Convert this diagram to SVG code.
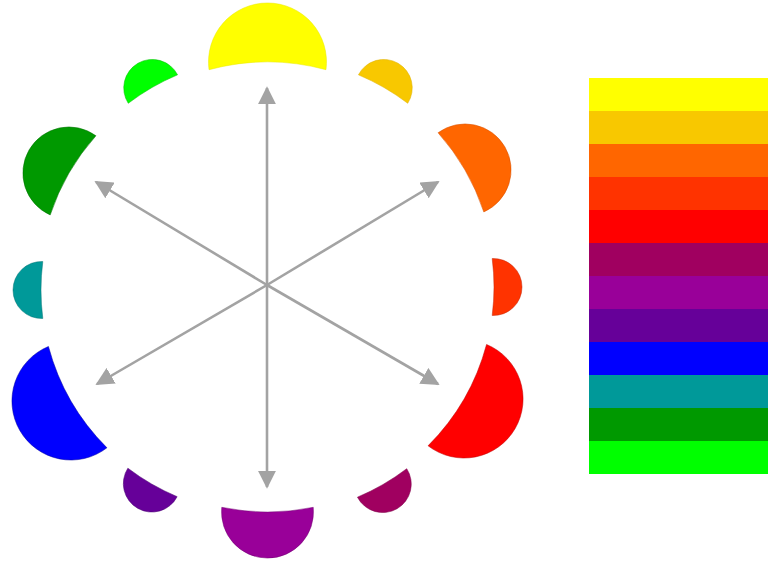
<svg xmlns="http://www.w3.org/2000/svg" width="768" height="567" viewBox="0 0 768 567">
<style>
.arr{stroke:#a3a3a3;stroke-width:2.6;fill:none;marker-end:url(#ah)}
.seg{stroke-width:0.8;stroke-opacity:0.6}
</style>
<defs>
<marker id="ah" viewBox="0 0 10 10" refX="9" refY="5" markerWidth="7" markerHeight="7" orient="auto" markerUnits="strokeWidth">
<path d="M0 0 L10 5 L0 10 Z" fill="#a3a3a3"/>
</marker>
<path id="big" d="M-58.49 7.7 A59 59 0 1 1 58.49 7.7 A226 226 0 0 0 -58.49 7.7 Z"/>
<path id="mid" d="M-45.75 4.68 A46 46 0 1 1 45.75 4.68 A226 226 0 0 0 -45.75 4.68 Z"/>
<path id="sml" d="M-28.47 1.8 A28.5 28.5 0 1 1 28.47 1.8 A226 226 0 0 0 -28.47 1.8 Z"/>
</defs>
<rect width="768" height="567" fill="#ffffff"/>
<g id="wheel">
<g id="s-yellow"><use href="#big" transform="translate(267.5,62)" fill="#ffff00" stroke="#e8e800" class="seg"/></g>
<g id="s-gold"><use href="#sml" transform="translate(384,87.5) rotate(30)" fill="#f8c800" stroke="#e0b000" class="seg"/></g>
<g id="s-orange"><use href="#mid" transform="translate(465,170) rotate(60)" fill="#ff6600" stroke="#d85000" class="seg"/></g>
<g id="s-redorange"><use href="#sml" transform="translate(494,287) rotate(90)" fill="#ff3300" stroke="#c02000" class="seg"/></g>
<g id="s-red"><use href="#big" transform="translate(464,399) rotate(120)" fill="#ff0000" stroke="#c00000" class="seg"/></g>
<g id="s-magenta"><use href="#sml" transform="translate(383,484.5) rotate(150)" fill="#a00060" stroke="#800048" class="seg"/></g>
<g id="s-purple"><use href="#mid" transform="translate(267.5,512) rotate(180)" fill="#990099" stroke="#700070" class="seg"/></g>
<g id="s-violet"><use href="#sml" transform="translate(151.6,484) rotate(210)" fill="#660099" stroke="#4a0070" class="seg"/></g>
<g id="s-blue"><use href="#big" transform="translate(71,401) rotate(240)" fill="#0000ff" stroke="#0000a0" class="seg"/></g>
<g id="s-teal"><use href="#sml" transform="translate(41,290) rotate(270)" fill="#009999" stroke="#007070" class="seg"/></g>
<g id="s-green"><use href="#mid" transform="translate(69,173) rotate(300)" fill="#009900" stroke="#007000" class="seg"/></g>
<g id="s-lime"><use href="#sml" transform="translate(152,87.5) rotate(330)" fill="#00ff00" stroke="#00c000" class="seg"/></g>
</g>
<g id="connectors">
<line class="arr" x1="267" y1="285" x2="267" y2="88"/>
<line class="arr" x1="267" y1="285" x2="267" y2="487"/>
<line class="arr" x1="267" y1="285" x2="96" y2="182"/>
<line class="arr" x1="267" y1="285" x2="438" y2="182"/>
<line class="arr" x1="267" y1="285" x2="97" y2="384"/>
<line class="arr" x1="267" y1="285" x2="438" y2="384"/>
</g>
<g id="bars">
<rect x="589" y="78" width="179" height="33" fill="#ffff00"/>
<rect x="589" y="111" width="179" height="33" fill="#f8c800"/>
<rect x="589" y="144" width="179" height="33" fill="#ff6600"/>
<rect x="589" y="177" width="179" height="33" fill="#ff3300"/>
<rect x="589" y="210" width="179" height="33" fill="#ff0000"/>
<rect x="589" y="243" width="179" height="33" fill="#a00060"/>
<rect x="589" y="276" width="179" height="33" fill="#990099"/>
<rect x="589" y="309" width="179" height="33" fill="#660099"/>
<rect x="589" y="342" width="179" height="33" fill="#0000ff"/>
<rect x="589" y="375" width="179" height="33" fill="#009999"/>
<rect x="589" y="408" width="179" height="33" fill="#009900"/>
<rect x="589" y="441" width="179" height="33" fill="#00ff00"/>
</g>
</svg>
